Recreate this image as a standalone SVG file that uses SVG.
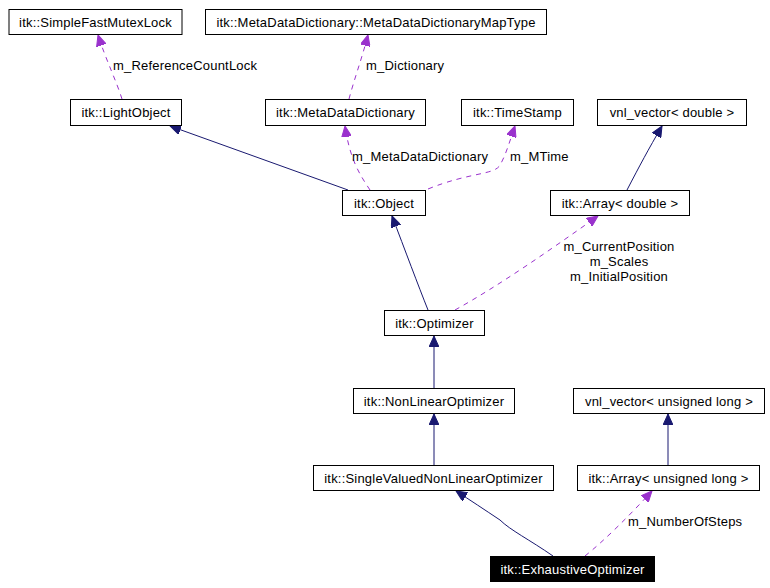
<svg xmlns="http://www.w3.org/2000/svg" width="770" height="588" viewBox="0 0 770 588">
<style>
text{font-family:"Liberation Sans",Arial,sans-serif;font-size:13px;fill:#000;letter-spacing:0.2px}
.n rect{fill:#fff;stroke:#000;stroke-width:1}
.n text{text-anchor:middle}
.inh{fill:none;stroke:#191970;stroke-width:1}
.use{fill:none;stroke:#9a32cd;stroke-width:1;stroke-dasharray:5,5}
.lbl{font-size:13px}
</style>
<defs>
<marker id="an" markerUnits="userSpaceOnUse" markerWidth="12" markerHeight="10" refX="11" refY="5" orient="auto"><path d="M0,0 L11,5 L0,10 z" fill="#191970" stroke="#191970"/></marker>
<marker id="ap" markerUnits="userSpaceOnUse" markerWidth="12" markerHeight="10" refX="11" refY="5" orient="auto"><path d="M0,0 L11,5 L0,10 z" fill="#9a32cd" stroke="#9a32cd"/></marker>
</defs>
<rect width="770" height="588" fill="#fff"/>
<g id="connectors">
<path class="use" d="M122,99 C116,80 106,60 98,35" marker-end="url(#ap)"/>
<path class="use" d="M349,99 C354,80 362,58 368,35" marker-end="url(#ap)"/>
<path class="inh" d="M348,190 L170,126" marker-end="url(#an)"/>
<path class="use" d="M370,190 C360,175 350,160 345,126" marker-end="url(#ap)"/>
<path class="use" d="M428,189 C470,172 495,175 500,165 C506,155 510,140 515,126" marker-end="url(#ap)"/>
<path class="inh" d="M627,190 C640,165 648,150 662,126" marker-end="url(#an)"/>
<path class="inh" d="M428,310 C418,285 405,250 392,216" marker-end="url(#an)"/>
<path class="use" d="M455,310 C500,285 550,250 598,216" marker-end="url(#ap)"/>
<path class="inh" d="M434,388 L434,336" marker-end="url(#an)"/>
<path class="inh" d="M434,465 L434,414" marker-end="url(#an)"/>
<path class="inh" d="M668,465 L668,414" marker-end="url(#an)"/>
<path class="inh" d="M553,556 C530,540 510,530 500,520 C485,510 470,500 456,491" marker-end="url(#an)"/>
<path class="use" d="M585,556 C605,540 630,515 652,491" marker-end="url(#ap)"/>
<text class="lbl" x="113" y="70">m_ReferenceCountLock</text>
<text class="lbl" x="366" y="70">m_Dictionary</text>
<text class="lbl" x="352" y="161">m_MetaDataDictionary</text>
<text class="lbl" x="510" y="161">m_MTime</text>
<text class="lbl" x="619" y="251" text-anchor="middle">m_CurrentPosition</text>
<text class="lbl" x="619" y="266" text-anchor="middle">m_Scales</text>
<text class="lbl" x="619" y="281" text-anchor="middle">m_InitialPosition</text>
<text class="lbl" x="628" y="526">m_NumberOfSteps</text>
</g>
<g id="SimpleFastMutexLock" class="n"><rect x="9" y="9.5" width="173" height="25"/><text x="95.5" y="26.5">itk::SimpleFastMutexLock</text></g>
<g id="MetaDataDictionaryMapType" class="n"><rect x="205.5" y="9.5" width="341" height="25"/><text x="376" y="26.5">itk::MetaDataDictionary::MetaDataDictionaryMapType</text></g>
<g id="LightObject" class="n"><rect x="70.5" y="99.5" width="111" height="26"/><text x="126" y="117">itk::LightObject</text></g>
<g id="MetaDataDictionary" class="n"><rect x="265.5" y="99.5" width="160" height="26"/><text x="345.5" y="117">itk::MetaDataDictionary</text></g>
<g id="TimeStamp" class="n"><rect x="461.5" y="99.5" width="112" height="26"/><text x="517.5" y="117">itk::TimeStamp</text></g>
<g id="VnlVectorDouble" class="n"><rect x="597.5" y="99.5" width="149" height="26"/><text x="672" y="117">vnl_vector&lt; double &gt;</text></g>
<g id="Object" class="n"><rect x="342.5" y="190.5" width="83" height="25"/><text x="384" y="208">itk::Object</text></g>
<g id="ArrayDouble" class="n"><rect x="550.5" y="190.5" width="139" height="25"/><text x="620" y="208">itk::Array&lt; double &gt;</text></g>
<g id="Optimizer" class="n"><rect x="384.5" y="310.5" width="100" height="25"/><text x="434.5" y="327.5">itk::Optimizer</text></g>
<g id="NonLinearOptimizer" class="n"><rect x="353.5" y="388.5" width="161" height="25"/><text x="434" y="405.5">itk::NonLinearOptimizer</text></g>
<g id="VnlVectorULong" class="n"><rect x="573.5" y="388.5" width="191" height="25"/><text x="669" y="405.5">vnl_vector&lt; unsigned long &gt;</text></g>
<g id="SingleValuedNonLinearOptimizer" class="n"><rect x="313.5" y="465.5" width="240" height="25"/><text x="433.5" y="482.5">itk::SingleValuedNonLinearOptimizer</text></g>
<g id="ArrayULong" class="n"><rect x="577.5" y="465.5" width="182" height="25"/><text x="668.5" y="482.5">itk::Array&lt; unsigned long &gt;</text></g>
<g id="ExhaustiveOptimizer" class="n"><rect x="490.5" y="556.5" width="164" height="25" style="fill:#000"/><text x="572.5" y="573.5" style="fill:#fff">itk::ExhaustiveOptimizer</text></g>
</svg>
